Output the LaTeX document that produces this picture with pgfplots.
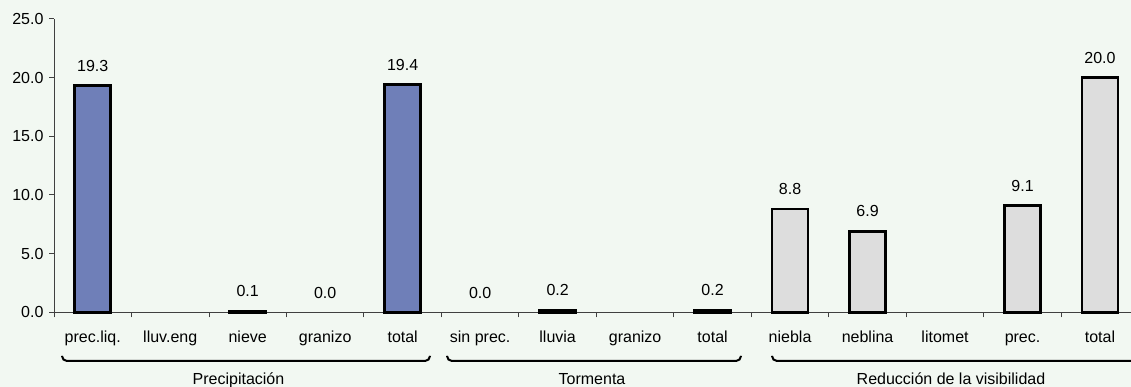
\documentclass[border=0pt]{standalone}
\usepackage{fontspec}
\setmainfont{Liberation Sans}
\usepackage{pgfplots}
\pgfplotsset{compat=1.18}
\definecolor{bg}{HTML}{F2F8F2}
\definecolor{barblue}{HTML}{6F7FB8}
\definecolor{bargray}{HTML}{DDDDDD}
\newcommand{\ff}{\fontsize{16bp}{19bp}\selectfont}
\begin{document}
\ff
\begin{tikzpicture}
\fill[bg] (0,0) rectangle (1131bp,387bp);
\begin{axis}[
  at={(54bp,74.7bp)}, anchor=south west,
  scale only axis, width=1077bp, height=293.5bp,
  xmin=-0.5, xmax=13.4, ymin=0, ymax=25,
  axis x line*=bottom, axis y line*=left,
  axis line style={-, black!75, line width=0.9bp},
  every tick/.style={black!75, line width=0.9bp},
  tick align=outside,
  major tick length=5bp, minor tick length=5bp,
  ytick={0,5,...,25},
  yticklabel style={/pgf/number format/.cd, fixed, fixed zerofill, precision=1, assume math mode=true},
  xtick={0,...,13},
  xticklabels={prec.liq., lluv.eng, nieve, granizo, total, sin prec., lluvia, granizo, total, niebla, neblina, litomet, prec., total},
  xticklabel style={yshift=-8bp, text height=11.5bp, text depth=3.5bp},
  minor xtick={-0.5,0.5,...,13.5},
  major x tick style={draw=none},
  ticklabel style={font=\ff},
  bar width=36bp,
  nodes near coords={\pgfmathprintnumber[fixed,fixed zerofill,precision=1,assume math mode=true]{\pgfplotspointmeta}},
  nodes near coords style={font=\ff, anchor=south, inner sep=0pt, yshift=13bp, text=black},
  clip=false,
]
\addplot[ybar, bar shift=0pt, fill=barblue, draw=black, line width=2.5bp] coordinates {(0,19.3) (2,0.1) (4,19.4)};
\addplot[ybar, bar shift=0pt, fill=black, draw=black, line width=2.5bp] coordinates {(6,0.2) (8,0.2)};
\addplot[ybar, bar shift=0pt, fill=bargray, draw=black, line width=2.5bp] coordinates {(9,8.8) (10,6.9) (12,9.1) (13,20.0)};
\addplot[ybar, bar shift=0pt, draw=none, fill=none] coordinates {(3,0.0) (5,0.0)};
\end{axis}
\begin{scope}[line width=2bp, rounded corners=5bp]
\draw (62bp,31bp) -- (62bp,26bp) -- (430bp,26bp) -- (430bp,31bp);
\draw (447bp,31bp) -- (447bp,26bp) -- (741bp,26bp) -- (741bp,31bp);
\draw (772bp,31bp) -- (772bp,26bp) -- (1145bp,26bp) -- (1145bp,31bp);
\end{scope}
\node[anchor=base] at (238.5bp,2.5bp) {Precipitación};
\node[anchor=base] at (592bp,2.5bp) {Tormenta};
\node[anchor=base] at (951bp,2.5bp) {Reducción de la visibilidad};
\pgfresetboundingbox
\path[use as bounding box] (0,0) rectangle (1131bp,387bp);
\end{tikzpicture}
\end{document}
